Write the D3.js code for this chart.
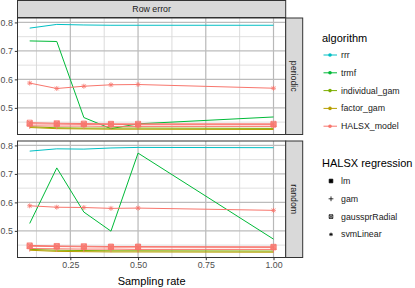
<!DOCTYPE html>
<html>
<head>
<meta charset="utf-8">
<script src="https://cdn.jsdelivr.net/npm/d3@7"></script>
<style>
  body { margin: 0; background: #fff; }
  svg text { font-family: "Liberation Sans", Arial, sans-serif; }
</style>
</head>
<body>
<svg id="chart" width="415" height="288"></svg>
<script>
// sampling rates on the x axis
const rates = [0.1, 0.2, 0.3, 0.4, 0.5, 1.0];
const panels = ["periodic", "random"];
const algorithms = ["rrr", "trmf", "individual_gam", "factor_gam", "HALSX_model"];
const algoColors = ["#00BFC4", "#00BA38", "#7CAE00", "#B79F00", "#F8766D"];
const regressions = ["lm", "gam", "gaussprRadial", "svmLinear"];

// periodic panel
const periodicRrr = [0.780, 0.793, 0.791, 0.790, 0.790, 0.790];
const periodicTrmf = [0.735, 0.733, 0.466, 0.427, 0.444, 0.468];
const periodicIndividualGam = [0.434, 0.430, 0.429, 0.429, 0.429, 0.428];
const periodicFactorGam = [0.431, 0.427, 0.426, 0.425, 0.425, 0.424];
const periodicHalsxLm = [0.444, 0.443, 0.442, 0.442, 0.441, 0.441];
const periodicHalsxGam = [0.437, 0.436, 0.436, 0.435, 0.435, 0.435];
const periodicHalsxGauss = [0.448, 0.446, 0.445, 0.444, 0.444, 0.444];
const periodicHalsxSvm = [0.587, 0.568, 0.576, 0.581, 0.582, 0.569];

// random panel
const randomRrr = [0.780, 0.788, 0.787, 0.791, 0.793, 0.792];
const randomTrmf = [0.526, 0.721, 0.566, 0.499, 0.773, 0.471];
const randomIndividualGam = [0.435, 0.432, 0.431, 0.430, 0.430, 0.429];
const randomFactorGam = [0.432, 0.428, 0.427, 0.426, 0.426, 0.425];
const randomHalsxLm = [0.446, 0.445, 0.444, 0.443, 0.443, 0.442];
const randomHalsxGam = [0.438, 0.437, 0.436, 0.436, 0.435, 0.435];
const randomHalsxGauss = [0.449, 0.447, 0.446, 0.445, 0.445, 0.444];
const randomHalsxSvm = [0.588, 0.583, 0.582, 0.579, 0.580, 0.572];

const xTicks = [0.25, 0.5, 0.75, 1.0];
const yTicks = [0.5, 0.6, 0.7, 0.8];

// series list: [panel, algorithm, regression or null, values]
const series = [
  ["periodic", "rrr", null, periodicRrr],
  ["periodic", "trmf", null, periodicTrmf],
  ["periodic", "individual_gam", null, periodicIndividualGam],
  ["periodic", "factor_gam", null, periodicFactorGam],
  ["periodic", "HALSX_model", "lm", periodicHalsxLm],
  ["periodic", "HALSX_model", "gam", periodicHalsxGam],
  ["periodic", "HALSX_model", "gaussprRadial", periodicHalsxGauss],
  ["periodic", "HALSX_model", "svmLinear", periodicHalsxSvm],
  ["random", "rrr", null, randomRrr],
  ["random", "trmf", null, randomTrmf],
  ["random", "individual_gam", null, randomIndividualGam],
  ["random", "factor_gam", null, randomFactorGam],
  ["random", "HALSX_model", "lm", randomHalsxLm],
  ["random", "HALSX_model", "gam", randomHalsxGam],
  ["random", "HALSX_model", "gaussprRadial", randomHalsxGauss],
  ["random", "HALSX_model", "svmLinear", randomHalsxSvm]
];

const svg = d3.select("#chart");
const color = d3.scaleOrdinal().domain(algorithms).range(algoColors);

const left = 17.5, right = 285.7;
const stripH = 17;
const panelTop = { periodic: 18, random: 141 };
const panelH = 116.5;

const x = d3.scaleLinear().domain([0.055, 1.045]).range([left, right]);
const y = d3.scaleLinear().domain([0.4065, 0.8155]);

// shape paths for the regression methods
function shapePath(kind, s) {
  const h = s / 2;
  if (kind === "lm") return `M${-h},${-h}H${h}V${h}H${-h}Z`;
  if (kind === "gam") return `M${-h - 0.6},0H${h + 0.6}M0,${-h - 0.6}V${h + 0.6}`;
  if (kind === "gaussprRadial") return `M${-h},${-h}H${h}V${h}H${-h}ZM${-h},${-h}L${h},${h}M${h},${-h}L${-h},${h}`;
  const d = h * 0.75;
  return `M${-h},0H${h}M0,${-h}V${h}M${-d},${-d}L${d},${d}M${d},${-d}L${-d},${d}`;
}

// top strip
svg.append("rect").attr("x", left).attr("y", 0.5).attr("width", right - left).attr("height", stripH)
  .attr("fill", "#d9d9d9").attr("stroke", "#333").attr("stroke-width", 1);
svg.append("text").attr("x", (left + right) / 2).attr("y", 9).attr("dy", "0.35em")
  .attr("text-anchor", "middle").attr("font-size", 8.8).attr("fill", "#1a1a1a").text("Row error");

panels.forEach(p => {
  const top = panelTop[p];
  const yp = y.copy().range([top + panelH, top]);
  const g = svg.append("g");

  g.append("rect").attr("x", left).attr("y", top).attr("width", right - left).attr("height", panelH)
    .attr("fill", "#fff");

  // minor grid
  [0.125, 0.375, 0.625, 0.875].forEach(v => {
    g.append("line").attr("x1", x(v)).attr("x2", x(v)).attr("y1", top).attr("y2", top + panelH)
      .attr("stroke", "#d2d2d2").attr("stroke-width", 0.8);
  });
  [0.45, 0.55, 0.65, 0.75].forEach(v => {
    g.append("line").attr("x1", left).attr("x2", right).attr("y1", yp(v)).attr("y2", yp(v))
      .attr("stroke", "#d8d8d8").attr("stroke-width", 0.8);
  });
  // major grid
  xTicks.forEach(v => {
    g.append("line").attr("x1", x(v)).attr("x2", x(v)).attr("y1", top).attr("y2", top + panelH)
      .attr("stroke", "#b8b8b8").attr("stroke-width", 1.2);
  });
  yTicks.forEach(v => {
    g.append("line").attr("x1", left).attr("x2", right).attr("y1", yp(v)).attr("y2", yp(v))
      .attr("stroke", "#bcbcbc").attr("stroke-width", 1.4);
  });

  const line = d3.line().x((d, i) => x(rates[i])).y(d => yp(d));

  series.filter(s => s[0] === p).forEach(s => {
    g.append("path").datum(s[3]).attr("d", line).attr("fill", "none")
      .attr("stroke", color(s[1])).attr("stroke-width", 1);
  });
  series.filter(s => s[0] === p && s[2]).forEach(s => {
    g.selectAll(null).data(s[3]).enter().append("path")
      .attr("transform", (d, i) => `translate(${x(rates[i])},${yp(d)})`)
      .attr("d", shapePath(s[2], 5))
      .attr("fill", s[2] === "lm" ? color(s[1]) : "none")
      .attr("stroke", color(s[1])).attr("stroke-width", 1).attr("opacity", 0.8);
  });

  g.append("rect").attr("x", left).attr("y", top).attr("width", right - left).attr("height", panelH)
    .attr("fill", "none").attr("stroke", "#333").attr("stroke-width", 1);

  // y axis
  const ya = svg.append("g").attr("transform", `translate(${left},0)`)
    .call(d3.axisLeft(yp).tickValues(yTicks).tickFormat(d3.format(".1f")).tickSize(2.7).tickPadding(2));
  ya.select(".domain").remove();
  ya.selectAll("line").attr("stroke", "#333");
  ya.selectAll("text").attr("font-size", 8.8).attr("fill", "#4d4d4d").attr("font-family", null);

  // right strip
  svg.append("rect").attr("x", right).attr("y", top).attr("width", stripH).attr("height", panelH)
    .attr("fill", "#d9d9d9").attr("stroke", "#333").attr("stroke-width", 1);
  svg.append("text")
    .attr("transform", `translate(${right + stripH / 2},${top + panelH / 2}) rotate(90)`)
    .attr("text-anchor", "middle").attr("dy", "0.35em").attr("font-size", 8.8).attr("fill", "#1a1a1a").text(p);
});

// x axis
const bottom = panelTop.random + panelH;
const xa = svg.append("g").attr("transform", `translate(0,${bottom})`)
  .call(d3.axisBottom(x).tickValues(xTicks).tickFormat(d3.format(".2f")).tickSize(2.7).tickPadding(2));
xa.select(".domain").remove();
xa.selectAll("line").attr("stroke", "#333");
xa.selectAll("text").attr("font-size", 8.8).attr("fill", "#4d4d4d").attr("font-family", null);

svg.append("text").attr("x", (left + right) / 2).attr("y", 281).attr("dy", "0.35em")
  .attr("text-anchor", "middle").attr("font-size", 11).attr("fill", "#000").text("Sampling rate");

// legend: algorithm
const lx = 322;
svg.append("text").attr("x", lx).attr("y", 38).attr("dy", "0.35em").attr("font-size", 11).text("algorithm");
algorithms.forEach((a, i) => {
  const ly = 55 + i * 17.8;
  svg.append("line").attr("x1", lx + 1.5).attr("x2", lx + 15).attr("y1", ly).attr("y2", ly)
    .attr("stroke", color(a)).attr("stroke-width", 1);
  svg.append("circle").attr("cx", lx + 8).attr("cy", ly).attr("r", 1.8).attr("fill", color(a));
  svg.append("text").attr("x", lx + 19).attr("y", ly).attr("dy", "0.35em").attr("font-size", 8.8)
    .attr("fill", "#1a1a1a").text(a);
});

// legend: HALSX regression
svg.append("text").attr("x", lx).attr("y", 163).attr("dy", "0.35em").attr("font-size", 11).text("HALSX regression");
regressions.forEach((r, i) => {
  const ly = 181 + i * 17.8;
  svg.append("path").attr("transform", `translate(${lx + 9},${ly})`)
    .attr("d", shapePath(r, 3.6))
    .attr("fill", r === "lm" ? "#000" : "none").attr("stroke", "#000").attr("stroke-width", 0.8);
  svg.append("text").attr("x", lx + 19).attr("y", ly).attr("dy", "0.35em").attr("font-size", 8.8)
    .attr("fill", "#1a1a1a").text(r);
});
</script>
</body>
</html>
